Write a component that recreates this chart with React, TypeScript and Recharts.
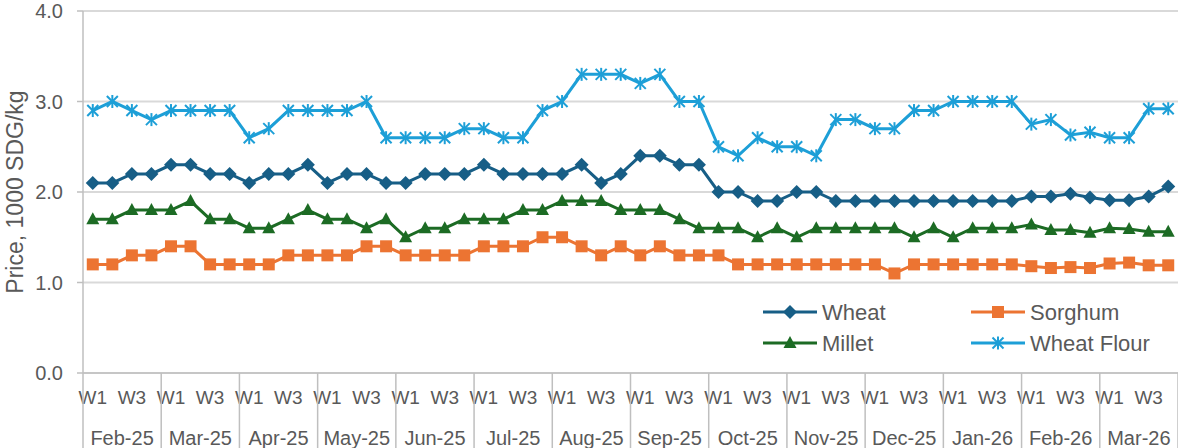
import React from 'react';
import { LineChart, Line, XAxis, YAxis, CartesianGrid, Legend } from 'recharts';

const months = ['Feb-25', 'Mar-25', 'Apr-25', 'May-25', 'Jun-25', 'Jul-25', 'Aug-25', 'Sep-25', 'Oct-25', 'Nov-25', 'Dec-25', 'Jan-26', 'Feb-26', 'Mar-26'];
const weeks = ['W1', 'W2', 'W3', 'W4'];
const shownWeeks = ['W1', 'W3'];
const yTicks = [0, 1, 2, 3, 4];

const wheat = [
  2.1, 2.1, 2.2, 2.2, 2.3, 2.3, 2.2, 2.2, 2.1, 2.2, 2.2, 2.3, 2.1, 2.2, 2.2, 2.1,
  2.1, 2.2, 2.2, 2.2, 2.3, 2.2, 2.2, 2.2, 2.2, 2.3, 2.1, 2.2, 2.4, 2.4, 2.3, 2.3,
  2.0, 2.0, 1.9, 1.9, 2.0, 2.0, 1.9, 1.9, 1.9, 1.9, 1.9, 1.9, 1.9, 1.9, 1.9, 1.9,
  1.95, 1.95, 1.98, 1.94, 1.91, 1.91, 1.95, 2.06,
];
const sorghum = [
  1.2, 1.2, 1.3, 1.3, 1.4, 1.4, 1.2, 1.2, 1.2, 1.2, 1.3, 1.3, 1.3, 1.3, 1.4, 1.4,
  1.3, 1.3, 1.3, 1.3, 1.4, 1.4, 1.4, 1.5, 1.5, 1.4, 1.3, 1.4, 1.3, 1.4, 1.3, 1.3,
  1.3, 1.2, 1.2, 1.2, 1.2, 1.2, 1.2, 1.2, 1.2, 1.1, 1.2, 1.2, 1.2, 1.2, 1.2, 1.2,
  1.18, 1.16, 1.17, 1.16, 1.21, 1.22, 1.19, 1.19,
];
const millet = [
  1.7, 1.7, 1.8, 1.8, 1.8, 1.9, 1.7, 1.7, 1.6, 1.6, 1.7, 1.8, 1.7, 1.7, 1.6, 1.7,
  1.5, 1.6, 1.6, 1.7, 1.7, 1.7, 1.8, 1.8, 1.9, 1.9, 1.9, 1.8, 1.8, 1.8, 1.7, 1.6,
  1.6, 1.6, 1.5, 1.6, 1.5, 1.6, 1.6, 1.6, 1.6, 1.6, 1.5, 1.6, 1.5, 1.6, 1.6, 1.6,
  1.64, 1.58, 1.58, 1.55, 1.6, 1.59, 1.56, 1.56,
];
const wheatFlour = [
  2.9, 3.0, 2.9, 2.8, 2.9, 2.9, 2.9, 2.9, 2.6, 2.7, 2.9, 2.9, 2.9, 2.9, 3.0, 2.6,
  2.6, 2.6, 2.6, 2.7, 2.7, 2.6, 2.6, 2.9, 3.0, 3.3, 3.3, 3.3, 3.2, 3.3, 3.0, 3.0,
  2.5, 2.4, 2.6, 2.5, 2.5, 2.4, 2.8, 2.8, 2.7, 2.7, 2.9, 2.9, 3.0, 3.0, 3.0, 3.0,
  2.75, 2.8, 2.63, 2.66, 2.6, 2.6, 2.92, 2.92,
];

const data = months.flatMap((m, mi) =>
  weeks.map((w, wi) => {
    const i = mi * 4 + wi;
    return { key: `${m}|${w}`, month: m, week: w, wheat: wheat[i], sorghum: sorghum[i], millet: millet[i], wheatFlour: wheatFlour[i] };
  })
);

const W = 1178;
const H = 448;
const LEFT = 83;
const TOP = 11;
const AXIS_Y = 373;
const BAND = (W - LEFT) / data.length;
const FONT = '"Liberation Sans", Arial, sans-serif';
const TEXT = '#595959';
const SEP = '#bfbfbf';

const C_WHEAT = '#175e86';
const C_SORGHUM = '#ec7432';
const C_MILLET = '#1c6b24';
const C_FLOUR = '#1d9fd7';

type MarkerKind = 'diamond' | 'square' | 'triangle' | 'star';

const marker = (kind: MarkerKind, cx: number, cy: number, color: string, key?: any) => {
  if (kind === 'diamond') {
    return <path key={key} d={`M${cx},${cy - 7}L${cx + 7},${cy}L${cx},${cy + 7}L${cx - 7},${cy}Z`} fill={color} />;
  }
  if (kind === 'square') {
    return <rect key={key} x={cx - 6} y={cy - 6} width={12} height={12} fill={color} />;
  }
  if (kind === 'triangle') {
    return <path key={key} d={`M${cx},${cy - 7}L${cx + 6.5},${cy + 5}L${cx - 6.5},${cy + 5}Z`} fill={color} />;
  }
  return (
    <g key={key} stroke={color} strokeWidth={2}>
      <line x1={cx} y1={cy - 6.5} x2={cx} y2={cy + 6.5} />
      <line x1={cx - 5.5} y1={cy - 5.5} x2={cx + 5.5} y2={cy + 5.5} />
      <line x1={cx - 5.5} y1={cy + 5.5} x2={cx + 5.5} y2={cy - 5.5} />
    </g>
  );
};

const dotFor = (kind: MarkerKind, color: string) => (props: any) => {
  const { cx, cy, index } = props;
  if (cx == null || cy == null) return <g key={`e-${index}`} />;
  return marker(kind, cx, cy, color, `${kind}-${index}`);
};

const series = [
  { key: 'wheat', name: 'Wheat', color: C_WHEAT, kind: 'diamond' as MarkerKind },
  { key: 'sorghum', name: 'Sorghum', color: C_SORGHUM, kind: 'square' as MarkerKind },
  { key: 'millet', name: 'Millet', color: C_MILLET, kind: 'triangle' as MarkerKind },
  { key: 'wheatFlour', name: 'Wheat Flour', color: C_FLOUR, kind: 'star' as MarkerKind },
];

const XTick = (props: any) => {
  const { x, payload } = props;
  const i = data.findIndex((d) => d.key === payload.value);
  if (i < 0) return <g />;
  const d = data[i];
  const wi = i % 4;
  return (
    <g>
      {shownWeeks.includes(d.week) && (
        <text x={x} y={404} textAnchor="middle" fill={TEXT} fontSize={19} fontFamily={FONT}>
          {d.week}
        </text>
      )}
      {wi === 0 && <line x1={x - BAND / 2} y1={AXIS_Y} x2={x - BAND / 2} y2={H} stroke={SEP} strokeWidth={1.5} />}
      {i === data.length - 1 && <line x1={x + BAND / 2} y1={AXIS_Y} x2={x + BAND / 2} y2={H} stroke={SEP} strokeWidth={1.5} />}
      {wi === 1 && (
        <text x={x + BAND / 2} y={445} textAnchor="middle" fill={TEXT} fontSize={20} fontFamily={FONT}>
          {d.month}
        </text>
      )}
    </g>
  );
};

const YLabel = (props: any) => (
  <text
    x={23}
    y={192}
    transform="rotate(-90, 23, 192)"
    textAnchor="middle"
    fill={TEXT}
    fontSize={23}
    fontFamily={FONT}
  >
    {props.value}
  </text>
);

const LegendBox = () => {
  const cols = [13, 221];
  const rows = [22, 53];
  return (
    <svg width={428} height={75} style={{ display: 'block' }}>
      {series.map((s, i) => {
        const x0 = cols[i % 2];
        const y = rows[Math.floor(i / 2)];
        return (
          <g key={s.key}>
            <line x1={x0} y1={y} x2={x0 + 54} y2={y} stroke={s.color} strokeWidth={3} />
            {marker(s.kind, x0 + 27, y, s.color)}
            <text x={x0 + 59} y={y + 8} fill={TEXT} fontSize={22} fontFamily={FONT}>
              {s.name}
            </text>
          </g>
        );
      })}
    </svg>
  );
};

export default function App() {
  return (
    <div style={{ position: 'absolute', left: 0, top: 0, width: W, height: H, background: '#fff' }}>
      <LineChart width={W} height={H} data={data} margin={{ top: TOP, right: 0, left: 0, bottom: 0 }}>
        <CartesianGrid vertical={false} stroke="#d9d9d9" strokeWidth={2} />
        <XAxis
          dataKey="key"
          scale="band"
          interval={0}
          height={H - AXIS_Y}
          tickLine={false}
          axisLine={{ stroke: SEP, strokeWidth: 1.5 }}
          tick={<XTick />}
        />
        <YAxis
          width={LEFT}
          domain={[0, 4]}
          ticks={yTicks}
          interval={0}
          tickFormatter={(v: number) => v.toFixed(1)}
          tick={{ fill: TEXT, fontSize: 20, fontFamily: FONT }}
          tickSize={6}
          tickMargin={14}
          tickLine={{ stroke: SEP, strokeWidth: 1.5 }}
          axisLine={{ stroke: SEP, strokeWidth: 1.5 }}
          label={{ value: 'Price, 1000 SDG/kg', content: <YLabel /> }}
        />
        <Legend
          layout="horizontal"
          verticalAlign="middle"
          align="center"
          content={<LegendBox />}
          wrapperStyle={{ left: 750, top: 290, width: 428, height: 75, right: 'auto', bottom: 'auto', margin: 0 }}
        />
        {series.map((s) => (
          <Line
            key={s.key}
            dataKey={s.key}
            name={s.name}
            stroke={s.color}
            strokeWidth={3}
            dot={dotFor(s.kind, s.color)}
            activeDot={false}
            isAnimationActive={false}
          />
        ))}
      </LineChart>
    </div>
  );
}
